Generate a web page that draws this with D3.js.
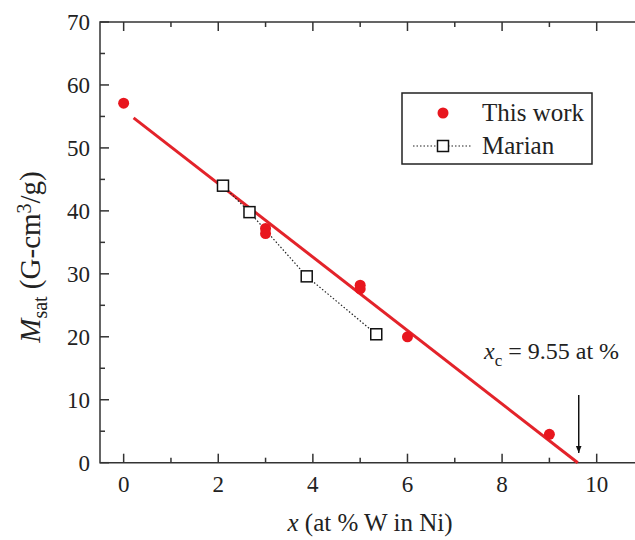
<!DOCTYPE html>
<html>
<head>
<meta charset="utf-8">
<script src="https://cdn.jsdelivr.net/npm/d3@7"></script>
<style>
  body { margin: 0; background: #fff; }
  svg { font-family: "Liberation Serif"; }
</style>
</head>
<body>
<svg id="chart" width="635" height="540"></svg>
<script>
// data
var thisWorkX = [0, 3, 3, 5, 5, 6, 9];
var thisWorkY = [57.1, 37.2, 36.4, 28.2, 27.6, 20.0, 4.5];
var marianX = [2.1, 2.66, 3.87, 5.34];
var marianY = [44.0, 39.8, 29.6, 20.4];
// linear fit: M = a + b*x, drawn from fitStart to xc
var fitA = 56.0;
var xc = 9.55;
var fitStart = 0.21;
var xTicks = [0, 2, 4, 6, 8, 10];
var yTicks = [0, 10, 20, 30, 40, 50, 60, 70];

var svg = d3.select("#chart");

var x = d3.scaleLinear().domain([-0.5, 11]).range([100, 644]);
var y = d3.scaleLinear().domain([0, 70]).range([462.7, 22]);

var axisColor = "#333";

// inward ticks on left, top and bottom (the right axis is cut off)
function ticks(vals, len, side) {
  vals.forEach(function (v) {
    var l = svg.append("line").attr("stroke", axisColor).attr("stroke-width", 1.5);
    if (side == "bottom") l.attr("x1", x(v)).attr("x2", x(v)).attr("y1", y(0)).attr("y2", y(0) - len);
    if (side == "top") l.attr("x1", x(v)).attr("x2", x(v)).attr("y1", y(70)).attr("y2", y(70) + len);
    if (side == "left") l.attr("y1", y(v)).attr("y2", y(v)).attr("x1", 100).attr("x2", 100 + len);
  });
}
var xMinor = d3.range(1, 11, 2);
var yMinor = d3.range(5, 70, 10);
["bottom", "top"].forEach(function (s) { ticks(xTicks, 9, s); ticks(xMinor, 5, s); });
ticks(yTicks, 9, "left"); ticks(yMinor, 5, "left");

svg.append("path")
  .attr("d", "M635," + y(70) + "H100V" + y(0) + "H635")
  .attr("fill", "none").attr("stroke", axisColor).attr("stroke-width", 1.5);

svg.selectAll(".xl").data(xTicks).join("text")
  .attr("x", function (d) { return x(d); })
  .attr("y", 492)
  .attr("text-anchor", "middle")
  .attr("fill", "#222")
  .attr("font-size", 23)
  .text(function (d) { return d; });
svg.selectAll(".yl").data(yTicks).join("text")
  .attr("x", 90)
  .attr("y", function (d) { return y(d) + 8; })
  .attr("text-anchor", "end")
  .attr("fill", "#222")
  .attr("font-size", 23)
  .text(function (d) { return d; });

// axis titles
var xt = svg.append("text").attr("x", 370).attr("y", 531).attr("text-anchor", "middle")
  .attr("fill", "#222").attr("font-size", 25);
xt.append("tspan").attr("font-style", "italic").text("x");
xt.append("tspan").text(" (at % W in Ni)");

var yt = svg.append("text")
  .attr("transform", "translate(40,257) rotate(-90)")
  .attr("text-anchor", "middle")
  .attr("fill", "#222")
  .attr("font-size", 29);
yt.append("tspan").attr("font-style", "italic").text("M");
yt.append("tspan").attr("dy", 7).attr("font-size", 20).text("sat");
yt.append("tspan").attr("dy", -7).text(" (G-cm");
yt.append("tspan").attr("dy", -9).attr("font-size", 20).text("3");
yt.append("tspan").attr("dy", 9).text("/g)");

var fitB = -fitA / xc;
svg.append("line")
  .attr("x1", x(fitStart)).attr("y1", y(fitA + fitB * fitStart))
  .attr("x2", x(xc + 0.05)).attr("y2", y(0))
  .attr("stroke", "#e3232a").attr("stroke-width", 3);

var marian = marianX.map(function (d, i) { return [d, marianY[i]]; });
svg.append("path")
  .attr("d", d3.line().x(function (d) { return x(d[0]); }).y(function (d) { return y(d[1]); })(marian))
  .attr("fill", "none").attr("stroke", "#222").attr("stroke-width", 1.2).attr("stroke-dasharray", "1.5,2");
svg.selectAll(".sq").data(marian).join("rect")
  .attr("x", function (d) { return x(d[0]) - 5.5; })
  .attr("y", function (d) { return y(d[1]) - 5.5; })
  .attr("width", 11).attr("height", 11)
  .attr("fill", "#fff").attr("stroke", "#111").attr("stroke-width", 1.5);

svg.selectAll(".pt").data(thisWorkX).join("circle")
  .attr("cx", function (d) { return x(d); })
  .attr("cy", function (d, i) { return y(thisWorkY[i]); })
  .attr("r", 5.5)
  .attr("fill", "#e8161e");

svg.append("defs").append("marker")
  .attr("id", "ah").attr("viewBox", "0 0 10 10").attr("refX", 10).attr("refY", 5)
  .attr("markerWidth", 5).attr("markerHeight", 6).attr("orient", "auto")
  .append("path").attr("d", "M0,1 L10,5 L0,9 Z").attr("fill", "#111");
svg.append("line")
  .attr("x1", x(9.62)).attr("y1", 395)
  .attr("x2", x(9.62)).attr("y2", 453)
  .attr("stroke", "#111").attr("stroke-width", 1.5)
  .attr("marker-end", "url(#ah)");

var lab = svg.append("text").attr("x", 484).attr("y", 359).attr("fill", "#222").attr("font-size", 24);
lab.append("tspan").attr("font-style", "italic").text("x");
lab.append("tspan").attr("dy", 7).attr("font-size", 17).text("c");
lab.append("tspan").attr("dy", -7).text(" = 9.55 at %");

var lg = svg.append("g");
lg.append("rect").attr("x", 402).attr("y", 93).attr("width", 190).attr("height", 71)
  .attr("fill", "#fff").attr("stroke", "#222").attr("stroke-width", 1.5);
lg.append("circle").attr("cx", 443).attr("cy", 113).attr("r", 5.5).attr("fill", "#e8161e");
lg.append("line").attr("x1", 413).attr("x2", 472).attr("y1", 146).attr("y2", 146)
  .attr("stroke", "#222").attr("stroke-width", 1.2).attr("stroke-dasharray", "1.5,2");
lg.append("rect").attr("x", 437.5).attr("y", 140.5).attr("width", 11).attr("height", 11)
  .attr("fill", "#fff").attr("stroke", "#111").attr("stroke-width", 1.5);
lg.append("text").attr("x", 482).attr("y", 121).attr("fill", "#222").attr("font-size", 25).text("This work");
lg.append("text").attr("x", 482).attr("y", 154).attr("fill", "#222").attr("font-size", 25).text("Marian");
</script>
</body>
</html>
